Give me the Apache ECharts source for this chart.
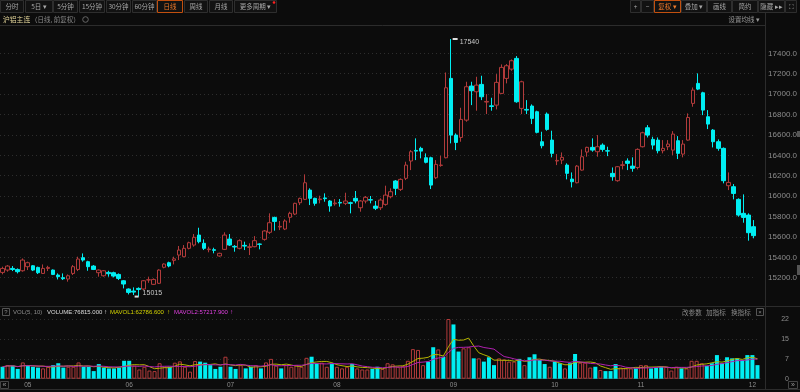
<!DOCTYPE html>
<html><head><meta charset="utf-8">
<script src="https://cdn.jsdelivr.net/npm/echarts@6/dist/echarts.min.js"></script>
<style>html,body{margin:0;padding:0;background:#0c0c0c;}#c{width:800px;height:392px;}</style>
</head><body><div id="c"></div>
<script>
// ---- data ----
const openP = [15252,15275,15291,15281,15268,15308,15317,15301,15242,15291,
 15275,15226,15200,15187,15242,15281,15396,15357,15314,15249,
 15219,15252,15249,15232,15170,15089,15069,15095,15089,15178,
 15135,15145,15302,15347,15370,15422,15406,15488,15520,15618,
 15537,15475,15475,15413,15478,15579,15507,15488,15517,15497,
 15504,15530,15576,15645,15791,15697,15677,15792,15824,15935,
 15968,16059,15978,15965,15982,15952,15925,15938,15929,15935,
 15978,15886,15952,15965,15902,15886,15919,15994,16148,16066,
 16174,16344,16448,16468,16376,16376,16180,16301,16376,17154,
 16598,16575,16745,17079,17023,17095,16922,16885,16892,17007,
 17154,17245,17350,16860,16850,16883,16827,16533,16804,16549,
 16344,16353,16304,16167,16131,16255,16432,16478,16435,16500,
 16445,16223,16151,16301,16344,16294,16281,16484,16670,16556,
 16549,16445,16484,16451,16543,16412,16549,16909,17105,17013,
 16778,16647,16533,16468,16102,16092,15968,15831,15814,15700];
const closeP = [15291,15314,15281,15259,15373,15347,15275,15249,15291,15301,
 15232,15210,15190,15219,15308,15383,15373,15308,15281,15275,
 15268,15239,15216,15193,15138,15056,15059,15085,15170,15180,
 15183,15275,15334,15315,15385,15471,15488,15543,15596,15553,
 15488,15481,15468,15439,15618,15520,15501,15563,15510,15504,
 15563,15527,15658,15739,15752,15703,15756,15831,15929,15978,
 16131,15978,15929,15972,15975,15903,15932,15932,15952,15929,
 15952,15952,15988,15961,15880,15961,16010,16043,16076,16164,
 16304,16435,16441,16441,16331,16108,16311,16304,17062,16598,
 16526,16752,17072,17033,17088,16974,16928,16879,17115,17262,
 17278,17327,16925,17121,16843,16762,16625,16494,16654,16419,
 16350,16380,16223,16141,16294,16386,16478,16451,16484,16458,
 16441,16190,16288,16307,16321,16272,16458,16621,16598,16500,
 16445,16468,16510,16608,16419,16510,16771,17039,17049,16843,
 16706,16533,16468,16151,16134,16026,15814,15791,15641,15612];
const lowP = [15233,15259,15265,15242,15259,15275,15265,15236,15236,15265,
 15226,15183,15177,15161,15226,15265,15357,15268,15275,15210,
 15210,15210,15203,15177,15095,15036,15030,15015,15079,15150,
 15128,15138,15292,15302,15330,15373,15400,15478,15504,15537,
 15471,15449,15439,15406,15471,15511,15455,15478,15471,15422,
 15498,15478,15563,15628,15661,15667,15667,15739,15814,15912,
 15961,15912,15906,15929,15945,15847,15906,15896,15912,15831,
 15929,15847,15929,15929,15863,15863,15906,15978,16010,16050,
 16157,16255,16353,16370,16321,16069,16167,16288,16370,16517,
 16451,16533,16729,16892,16837,16941,16804,16837,16850,17000,
 17105,17229,16915,16804,16804,16706,16615,16468,16641,16380,
 16304,16314,16164,16085,16125,16249,16386,16435,16386,16435,
 16392,16151,16141,16262,16255,16239,16262,16477,16575,16458,
 16419,16419,16451,16402,16363,16380,16543,16876,17039,16794,
 16657,16477,16445,16125,16059,15968,15798,15739,15563,15586];
const highP = [15308,15324,15314,15291,15389,15357,15324,15308,15330,15317,
 15281,15242,15242,15232,15324,15406,15438,15366,15324,15281,
 15275,15268,15259,15242,15177,15095,15105,15105,15177,15210,
 15193,15282,15341,15357,15406,15511,15520,15553,15628,15690,
 15576,15504,15494,15445,15645,15628,15520,15576,15553,15537,
 15608,15537,15667,15831,15798,15756,15772,15847,15935,15984,
 16213,16076,15984,16004,16027,15961,15971,15971,16033,15945,
 16050,15961,16001,16001,15952,15978,16102,16076,16157,16174,
 16337,16451,16566,16484,16419,16386,16353,16396,17212,17540,
 16615,16866,17121,17121,17170,17180,17000,16964,17196,17291,
 17294,17340,17373,17131,16941,16899,16837,16631,16820,16641,
 16412,16428,16321,16232,16304,16458,16484,16566,16598,16517,
 16484,16281,16294,16344,16370,16380,16468,16631,16696,16582,
 16575,16549,16549,16637,16588,16549,16811,17065,17203,17023,
 16843,16657,16556,16477,16232,16118,15978,16017,15831,15765];
// volume in units of 10^4
const volume = [4.4,5.0,4.8,3.6,6.0,5.0,4.4,4.1,3.8,4.4,
 5.0,5.7,4.1,4.4,4.4,6.0,4.4,4.4,2.8,5.4,
 4.1,3.8,3.8,4.1,6.6,6.6,4.8,3.4,4.4,3.0,
 2.8,5.7,4.4,4.4,5.9,6.4,4.4,2.6,6.5,6.3,
 5.9,5.0,3.6,4.4,8.1,4.4,3.6,5.0,3.8,4.4,
 5.0,3.8,6.0,7.3,4.8,3.8,5.0,4.4,5.0,4.4,
 7.7,8.1,5.7,5.9,4.4,5.4,4.4,3.8,4.4,5.4,
 3.8,3.4,3.4,3.6,4.4,3.6,5.7,5.3,4.4,4.7,
 6.6,10.9,10.6,5.0,6.3,11.6,10.8,8.1,22.0,20.0,
 10.0,11.2,11.6,7.5,7.5,6.3,7.9,5.0,7.5,7.1,
 6.3,6.3,7.3,5.0,7.9,9.0,6.9,5.4,4.4,6.3,
 5.7,3.8,5.7,9.1,5.9,5.9,4.1,4.4,3.2,2.8,
 2.8,5.4,4.1,3.8,3.8,3.8,5.0,5.0,3.8,4.1,
 4.4,4.4,3.0,4.4,3.8,3.8,6.6,6.6,5.7,4.7,
 5.7,8.7,5.7,7.9,7.5,7.5,6.9,8.7,8.7,5.0];
const prevClose0 = 15300;
const monthLabels = ['05','06','07','08','09','10','11','12'];
const monthIdx = [5,25,45,66,89,109,126,148];
const highMark = {idx: 89, value: 17540};
const lowMark = {idx: 27, value: 15015};
const volLegend = ['VOL(5, 10)', 'VOLUME:76815.000', 'MAVOL1:62786.600', 'MAVOL2:57217.900'];

// ---- styles ----
const BG = '#0c0c0c', RED = '#b23b3b', CYAN = '#00eef2', GRID = '#2e2e2e', LINE = '#2c2c2c';
const TXT = '#8e8e8e';
const CJK = '"Noto Sans CJK SC"';
const LAT = '"Liberation Sans"';

const cats = openP.map((_, i) => String(i));
const candles = openP.map((o, i) => [o, closeP[i], lowP[i], highP[i]]);
const volItems = volume.map((v, i) => {
  const pc = i === 0 ? prevClose0 : closeP[i - 1];
  const up = closeP[i] >= pc;
  return {value: v, itemStyle: up ? {color: BG, borderColor: RED, borderWidth: 1} : {color: CYAN, borderWidth: 0}};
});
function ma(arr, n) {
  return arr.map((_, i) => {
    const s = Math.max(0, i - n + 1);
    let t = 0; for (let k = s; k <= i; k++) t += arr[k];
    return +(t / (i - s + 1)).toFixed(3);
  });
}

// ---- decorations ----
const G = [];
function txt(x, y, text, fill, font, align) {
  G.push({type: 'text', x: x, y: y, silent: true, style: {text: text, fill: fill, font: font,
    textAlign: align || 'left', textVerticalAlign: 'middle', align: align || 'left', verticalAlign: 'middle'}});
}
function rect(x, y, w, h, fill, stroke) {
  G.push({type: 'rect', silent: true, shape: {x: x, y: y, width: w, height: h}, style: {fill: fill || 'none', stroke: stroke || null, lineWidth: 1}});
}
function hline(x0, x1, y, c) { G.push({type: 'line', silent: true, shape: {x1: x0, y1: y, x2: x1, y2: y}, style: {stroke: c || LINE, lineWidth: 1}}); }
function vline(x, y0, y1, c) { G.push({type: 'line', silent: true, shape: {x1: x, y1: y0, x2: x, y2: y1}, style: {stroke: c || LINE, lineWidth: 1}}); }
function btn(x0, x1, label, active) {
  rect(x0 + 0.5, 0.5, x1 - x0 - 1, 12, '#121212', active ? '#c2500f' : '#2e2e2e');
  txt((x0 + x1) / 2, 6.7, label, active ? '#f07a2a' : '#a8a8a8', '6.5px ' + CJK, 'center');
}
const leftBtns = [[0,24,'分时'],[25,53,'5日 ▾'],[53,78,'5分钟'],[79,105,'15分钟'],[106,131,'30分钟'],[132,157,'60分钟'],[157,183,'日线',1],[184,208,'周线'],[209,233,'月线'],[234,277,'更多周期 ▾']];
leftBtns.forEach(b => btn(b[0], b[1], b[2], b[3]));
G.push({type: 'circle', silent: true, shape: {cx: 274, cy: 2.5, r: 1.3}, style: {fill: '#ff2020'}});
const rightBtns = [[630,641,'+'],[641,654,'−'],[654,681,'复权 ▾',1],[681,707,'叠加 ▾'],[707,732,'画线'],[732,758,'简约'],[758,785,'隐藏 ▸▸'],[785,797,'⛶']];
rightBtns.forEach(b => btn(b[0], b[1], b[2], b[3]));

txt(3, 19.5, '沪铝主连', '#e3d59a', '6.8px ' + CJK);
txt(31, 19.5, '（日线, 前复权）', '#8a8a8a', '6.5px ' + CJK);
G.push({type: 'circle', silent: true, shape: {cx: 85.5, cy: 19.5, r: 2.8}, style: {fill: 'none', stroke: '#666', lineWidth: 1}});
txt(760, 19.5, '设置均线 ▾', '#9a9a9a', '6.5px ' + CJK, 'right');

hline(0, 765, 25.5);
vline(765.5, 13, 390);
hline(0, 800, 306.5);
hline(0, 800, 389.5);
rect(797, 131, 3, 6, '#555');
rect(797, 265, 3, 10, '#555');

// volume legend
rect(2.5, 308.5, 7, 7, 'none', '#555');
txt(6, 312.2, '?', '#888', '6px ' + LAT, 'center');
txt(13, 312.2, volLegend[0], '#8a8a8a', '6px ' + LAT);
txt(47, 312.2, volLegend[1], '#dcdcdc', '6px ' + LAT);
txt(104, 312.2, '↑', '#dcdcdc', '6.5px ' + LAT);
txt(110, 312.2, volLegend[2], '#d4d400', '6px ' + LAT);
txt(167, 312.2, '↑', '#d4d400', '6.5px ' + LAT);
txt(174, 312.2, volLegend[3], '#e040e0', '6px ' + LAT);
txt(230, 312.2, '↑', '#e040e0', '6.5px ' + LAT);
txt(682, 312.2, '改参数', '#8a8a8a', '6.6px ' + CJK);
txt(706, 312.2, '加指标', '#8a8a8a', '6.6px ' + CJK);
txt(731, 312.2, '换指标', '#8a8a8a', '6.6px ' + CJK);
rect(756.5, 308.5, 7, 7, 'none', '#555');
txt(760, 312, '×', '#888', '6px ' + LAT, 'center');
rect(0.5, 381.5, 8, 7, 'none', '#444');
txt(4.5, 385, '«', '#999', '7px ' + LAT, 'center');
rect(788.5, 381.5, 9, 7, 'none', '#444');
txt(793, 385, '»', '#999', '7px ' + LAT, 'center');

const chart = echarts.init(document.getElementById('c'), null, {renderer: 'canvas'});
chart.setOption({
  backgroundColor: BG,
  animation: false,
  grid: [
    {left: 0, right: 40, top: 32.9, height: 265.2},
    {left: 0, right: 40, top: 319, height: 59.7}
  ],
  xAxis: [
    {type: 'category', data: cats, gridIndex: 0, show: false},
    {type: 'category', data: cats, gridIndex: 1,
     axisLine: {lineStyle: {color: '#3a3a3a'}}, axisTick: {show: false},
     axisLabel: {interval: (i) => monthIdx.indexOf(i) >= 0,
       formatter: (v, i) => monthLabels[monthIdx.indexOf(+v)] || '',
       color: TXT, fontSize: 6.5, fontFamily: 'Liberation Sans', margin: 3}}
  ],
  yAxis: [
    {type: 'value', gridIndex: 0, position: 'right', min: 15000, max: 17600, interval: 200,
     axisLine: {show: false}, axisTick: {show: false},
     axisLabel: {showMinLabel: false, showMaxLabel: false, formatter: v => v.toFixed(1),
       color: '#8d8d8d', fontSize: 8, fontFamily: 'Liberation Sans', margin: 12, align: 'left'},
     splitLine: {show: true, showMinLine: false, showMaxLine: false, lineStyle: {color: GRID, type: [1, 3]}}},
    {type: 'value', gridIndex: 1, position: 'right', min: 0, max: 22, interval: 22 / 3,
     axisLine: {show: false}, axisTick: {show: false},
     axisLabel: {formatter: v => String(Math.round(v)), color: '#8d8d8d', fontSize: 7,
       fontFamily: 'Liberation Sans', margin: 29, align: 'right'},
     splitLine: {show: true, showMinLine: false, lineStyle: {color: GRID, type: [1, 3]}}}
  ],
  series: [
    {type: 'candlestick', xAxisIndex: 0, yAxisIndex: 0, data: candles, barWidth: 4,
     itemStyle: {color: BG, color0: CYAN, borderColor: RED, borderColor0: CYAN, borderWidth: 1},
     markPoint: {
       symbol: 'rect', silent: true,
       data: [
         {coord: [String(highMark.idx), highMark.value], symbolSize: [5, 2], symbolOffset: [4, 0],
          itemStyle: {color: '#dddddd'},
          label: {show: true, position: 'right', distance: 2, offset: [0, 3], formatter: String(highMark.value),
            color: '#c8c8c8', fontSize: 7, fontFamily: 'Liberation Sans'}},
         {coord: [String(lowMark.idx), lowMark.value], symbolSize: [4, 2], symbolOffset: [-2, 0],
          itemStyle: {color: '#dddddd'},
          label: {show: true, position: 'right', distance: 4, offset: [0, -4], formatter: String(lowMark.value),
            color: '#c8c8c8', fontSize: 7, fontFamily: 'Liberation Sans'}}
       ]
     }},
    {type: 'bar', xAxisIndex: 1, yAxisIndex: 1, data: volItems, barWidth: 4},
    {type: 'line', xAxisIndex: 1, yAxisIndex: 1, data: ma(volume, 5), symbol: 'none', silent: true,
     lineStyle: {color: '#b4b400', width: 1}, z: 5},
    {type: 'line', xAxisIndex: 1, yAxisIndex: 1, data: ma(volume, 10), symbol: 'none', silent: true,
     lineStyle: {color: '#b020b0', width: 1}, z: 5}
  ],
  graphic: G
});
</script>
</body></html>
